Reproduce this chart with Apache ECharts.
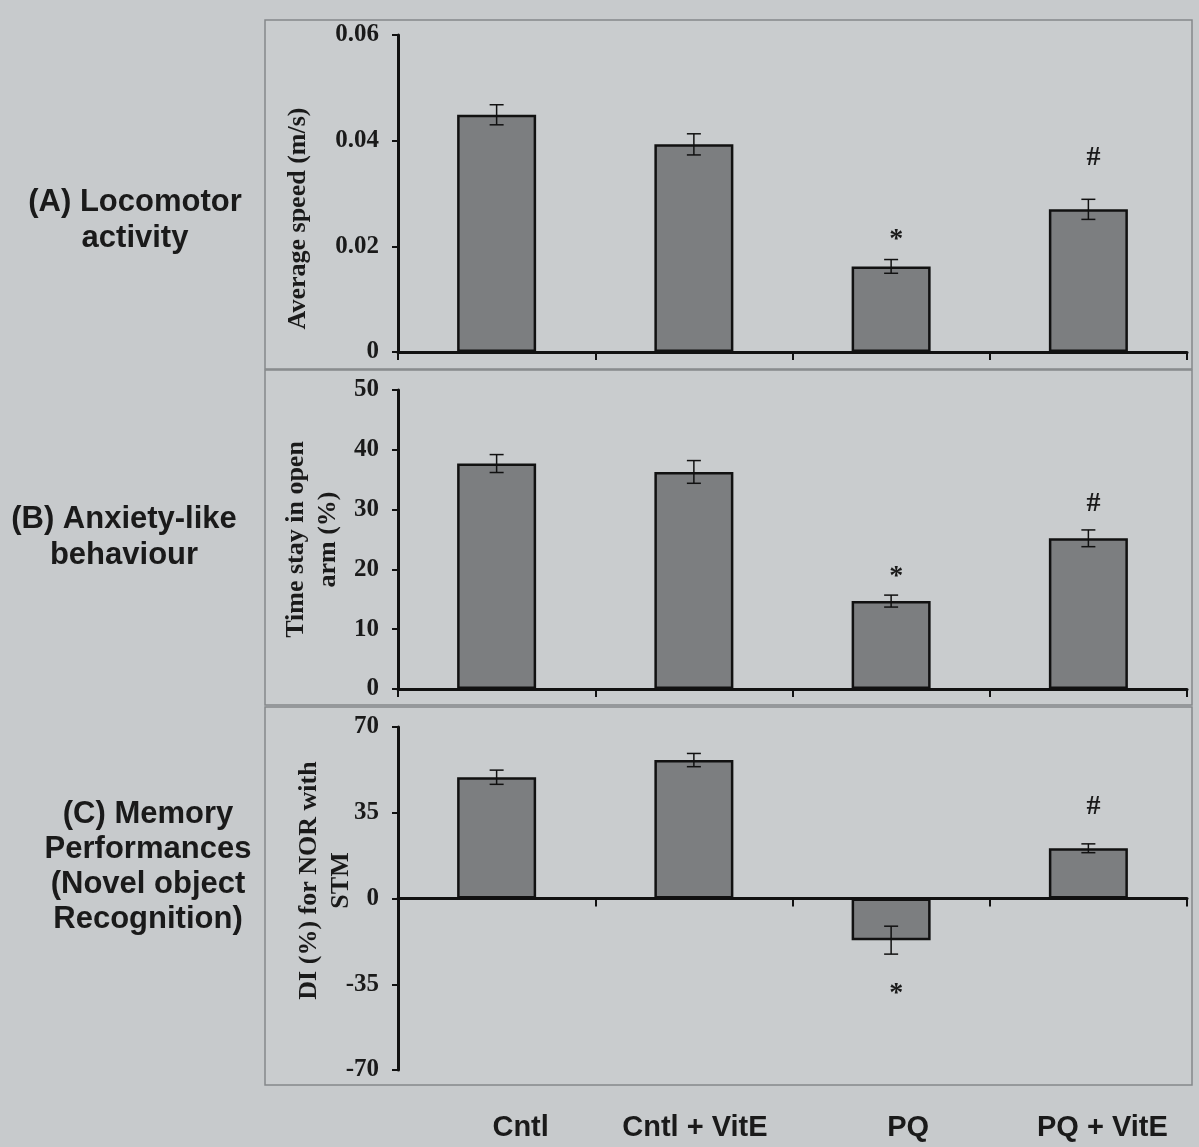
<!DOCTYPE html>
<html>
<head>
<meta charset="utf-8">
<script src="https://cdn.jsdelivr.net/npm/echarts@6/dist/echarts.min.js"></script>
<style>
html,body{margin:0;padding:0;background:#c7cacc;}
#c{width:1199px;height:1147px;}
</style>
</head>
<body>
<div id="c"></div>
<script>
const categories = ['Cntl', 'Cntl + VitE', 'PQ', 'PQ + VitE'];

const speedMean = [0.0449, 0.0393, 0.0162, 0.0270];
const speedErr = [0.0019, 0.0020, 0.0013, 0.0019];
const speedMarks = ['', '', '*', '#'];
const speedMarkAt = [null, null, 0.0212, 0.0368];
const speedTicks = [0, 0.02, 0.04, 0.06];

const openArmMean = [37.7, 36.3, 14.7, 25.2];
const openArmErr = [1.5, 1.9, 1.0, 1.4];
const openArmMarks = ['', '', '*', '#'];
const openArmMarkAt = [null, null, 18.7, 31];
const openArmTicks = [0, 10, 20, 30, 40, 50];

const diMean = [49.5, 56.5, -17, 20.5];
const diErr = [2.9, 2.7, 5.7, 1.8];
const diMarks = ['', '', '*', '#'];
const diMarkAt = [null, null, -39, 37.5];
const diTicks = [-70, -35, 0, 35, 70];

const panelTitles = ['(A) Locomotor\nactivity', '(B) Anxiety-like\nbehaviour', '(C) Memory\nPerformances\n(Novel object\nRecognition)'];
const axisNames = ['Average speed (m/s)', 'Time stay in open\narm (%)', 'DI (%) for NOR with\nSTM'];

const serif = '"Liberation Serif", "DejaVu Serif", serif';
const sans = '"Liberation Sans", Arial, sans-serif';

const chart = echarts.init(document.getElementById('c'));

const grids = [
  {left: 398, right: 12, top: 35, height: 317},
  {left: 398, right: 12, top: 390, height: 299},
  {left: 398, right: 12, top: 727, height: 343}
];

const panels = [
  {mean: speedMean, err: speedErr, marks: speedMarks, markAt: speedMarkAt, ticks: speedTicks, gap: 84, pad: [0, 50, 0, 0]},
  {mean: openArmMean, err: openArmErr, marks: openArmMarks, markAt: openArmMarkAt, ticks: openArmTicks, gap: 54, pad: [0, 0, 0, 0]},
  {mean: diMean, err: diErr, marks: diMarks, markAt: diMarkAt, ticks: diTicks, gap: 41, pad: [0, 0, 0, 36]}
];

const xAxes = [];
const yAxes = [];
const series = [];

panels.forEach((p, i) => {
  const tks = p.ticks;
  xAxes.push({
    type: 'category', gridIndex: i, data: categories,
    axisLine: {onZero: true, lineStyle: {color: '#111', width: 3}},
    axisTick: {show: true, length: 8, lineStyle: {color: '#111', width: 2}},
    axisLabel: {show: false}
  });
  yAxes.push({
    type: 'value', gridIndex: i,
    min: tks[0], max: tks[tks.length - 1], interval: tks[1] - tks[0],
    name: axisNames[i], nameLocation: 'middle', nameGap: p.gap, nameRotate: 90,
    nameMoveOverlap: false,
    nameTextStyle: {fontFamily: serif, fontWeight: 'bold', fontSize: 26, color: '#1a1a1a', lineHeight: 32, align: 'center', padding: p.pad},
    axisLine: {show: true, lineStyle: {color: '#111', width: 3}},
    axisTick: {show: true, length: 6, inside: false, lineStyle: {color: '#111', width: 2}},
    splitLine: {show: false},
    axisLabel: {fontFamily: serif, fontWeight: 'bold', fontSize: 25, color: '#1a1a1a', margin: 19}
  });
  series.push({
    type: 'bar', xAxisIndex: i, yAxisIndex: i, data: p.mean, barWidth: 79,
    itemStyle: {color: '#7c7e80', borderColor: '#111', borderWidth: 2.5},
    silent: true
  });
  series.push({
    type: 'custom', xAxisIndex: i, yAxisIndex: i,
    data: p.mean.map((m, k) => [k, m, p.err[k]]),
    renderItem: function (params, api) {
      const x = api.value(0), v = api.value(1), e = api.value(2);
      const top = api.coord([x, v + e]);
      const bot = api.coord([x, v - e]);
      const w = 7;
      const st = {stroke: '#111', lineWidth: 1.5};
      return {type: 'group', children: [
        {type: 'line', shape: {x1: top[0], y1: top[1], x2: bot[0], y2: bot[1]}, style: st},
        {type: 'line', shape: {x1: top[0] - w, y1: top[1], x2: top[0] + w, y2: top[1]}, style: st},
        {type: 'line', shape: {x1: bot[0] - w, y1: bot[1], x2: bot[0] + w, y2: bot[1]}, style: st}
      ]};
    },
    z: 5, silent: true
  });
  series.push({
    type: 'custom', xAxisIndex: i, yAxisIndex: i,
    data: p.marks.map((mk, k) => [k, p.markAt[k] === null ? 0 : p.markAt[k], mk]).filter(d => d[2] !== ''),
    renderItem: function (params, api) {
      const pt = api.coord([api.value(0), api.value(1)]);
      const txt = p.marks[api.value(0)];
      return {type: 'text', style: {x: pt[0] + 5, y: pt[1], text: txt, textAlign: 'center', textVerticalAlign: 'middle',
        font: 'bold 28px ' + serif, fill: '#1a1a1a'}};
    },
    z: 6, silent: true
  });
});

// bottom category labels attached to the last grid
const labelStyles = {c0: 48, c1: 2, c2: 34, c3: 28};
const rich = {};
Object.keys(labelStyles).forEach(k => {
  rich[k] = {fontFamily: sans, fontWeight: 'bold', fontSize: 29, color: '#1a1a1a', padding: [0, 0, 0, labelStyles[k]]};
});
xAxes.push({
  type: 'category', gridIndex: 2, data: categories, position: 'bottom',
  axisLine: {show: false, onZero: false}, axisTick: {show: false},
  axisLabel: {show: true, margin: 43, rich: rich,
    formatter: function (v, idx) { return '{c' + idx + '|' + v + '}'; }}
});

const graphics = [
  {type: 'rect', shape: {x: 265, y: 20, width: 927, height: 349}, style: {fill: 'rgba(255,255,255,0.04)', stroke: '#85888a', lineWidth: 1.5}, z: -10},
  {type: 'rect', shape: {x: 265, y: 370, width: 927, height: 335}, style: {fill: 'rgba(255,255,255,0.04)', stroke: '#85888a', lineWidth: 1.5}, z: -10},
  {type: 'rect', shape: {x: 265, y: 707, width: 927, height: 378}, style: {fill: 'rgba(255,255,255,0.04)', stroke: '#85888a', lineWidth: 1.5}, z: -10},
  {type: 'text', x: 135, y: 220, style: {text: panelTitles[0], font: 'bold 31px ' + sans, fill: '#1a1a1a', textAlign: 'center', textVerticalAlign: 'middle', lineHeight: 36}},
  {type: 'text', x: 124, y: 537, style: {text: panelTitles[1], font: 'bold 31px ' + sans, fill: '#1a1a1a', textAlign: 'center', textVerticalAlign: 'middle', lineHeight: 36}},
  {type: 'text', x: 148, y: 867, style: {text: panelTitles[2], font: 'bold 31px ' + sans, fill: '#1a1a1a', textAlign: 'center', textVerticalAlign: 'middle', lineHeight: 35}}
];

chart.setOption({
  backgroundColor: '#c7cacc',
  animation: false,
  grid: grids,
  xAxis: xAxes,
  yAxis: yAxes,
  series: series,
  graphic: graphics
});
</script>
</body>
</html>
